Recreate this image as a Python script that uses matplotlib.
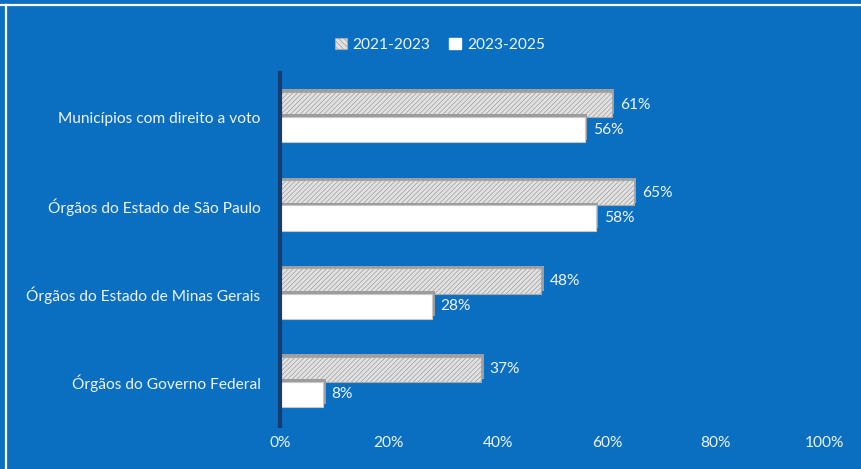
import matplotlib
matplotlib.use('Agg')
import matplotlib.pyplot as plt
import matplotlib.patheffects as pe
from matplotlib.patches import Patch
import numpy as np

plt.rcParams['font.family'] = ['Lato', 'DejaVu Sans']
plt.rcParams['hatch.color'] = '#b4b4b4'
plt.rcParams['hatch.linewidth'] = 0.6

categorias = ['Municípios com direito a voto', 'Órgãos do Estado de São Paulo',
              'Órgãos do Estado de Minas Gerais', 'Órgãos do Governo Federal']
serie_2021 = [61, 65, 48, 37]
serie_2023 = [56, 58, 28, 8]
ticks = [0, 20, 40, 60, 80, 100]

BG = '#0a6fc1'
TXT = '#eef4fb'
FS = 11.2

fig = plt.figure(figsize=(8.61, 4.69), dpi=100, facecolor=BG)
ax = fig.add_axes([0.325, 0.092, 0.633, 0.752], facecolor=BG)

y = np.arange(len(categorias))
h = 0.285
sombra = [pe.SimplePatchShadow(offset=(1.5, 2), shadow_rgbFace='#9c9c9c', alpha=1), pe.Normal()]

b1 = ax.barh(y - h / 2, serie_2021, height=h, color='#e2e2e2', edgecolor='#a8a8a8',
             hatch='///////', linewidth=0.8, label='2021-2023')
b2 = ax.barh(y + h / 2, serie_2023, height=h, color='white', edgecolor='#c8c8c8',
             linewidth=0.8, label='2023-2025')
for b in list(b1) + list(b2):
    b.set_path_effects(sombra)

for yy, v in zip(y - h / 2, serie_2021):
    ax.text(v + 1.5, yy, f'{v}%', va='center', ha='left', color=TXT, fontsize=FS)
for yy, v in zip(y + h / 2, serie_2023):
    ax.text(v + 1.5, yy, f'{v}%', va='center', ha='left', color=TXT, fontsize=FS)

ax.set_ylim(len(categorias) - 0.5, -0.5)
ax.set_xlim(0, 100)
ax.set_yticks(y)
ax.set_yticklabels(categorias, color=TXT, fontsize=FS)
ax.set_xticks(ticks)
ax.set_xticklabels([f'{t}%' for t in ticks], color=TXT, fontsize=FS)
ax.tick_params(axis='y', length=0, pad=14)
ax.tick_params(axis='x', length=0, pad=7)
for s in ['top', 'right', 'bottom']:
    ax.spines[s].set_visible(False)
ax.spines['left'].set_color('#163d6e')
ax.spines['left'].set_linewidth(3)

handles = [Patch(facecolor='#e2e2e2', edgecolor='#a8a8a8', hatch='\\\\\\\\\\\\', linewidth=0.8),
           Patch(facecolor='white', edgecolor='white')]
fig.legend(handles, ['2021-2023', '2023-2025'], loc='center', bbox_to_anchor=(440 / 861, 1 - 45 / 469),
           ncol=2, frameon=False, fontsize=FS, labelcolor=TXT, handlelength=0.75, handleheight=0.75,
           handletextpad=0.4, columnspacing=1.2)

# moldura branca
fig.add_artist(plt.Line2D([0, 1], [1 - 5.5 / 469] * 2, color='white', lw=1.6, transform=fig.transFigure))
fig.add_artist(plt.Line2D([5.5 / 861] * 2, [0, 1 - 5.5 / 469], color='white', lw=1.6, transform=fig.transFigure))

fig.savefig('out.png', dpi=100, facecolor=BG)
